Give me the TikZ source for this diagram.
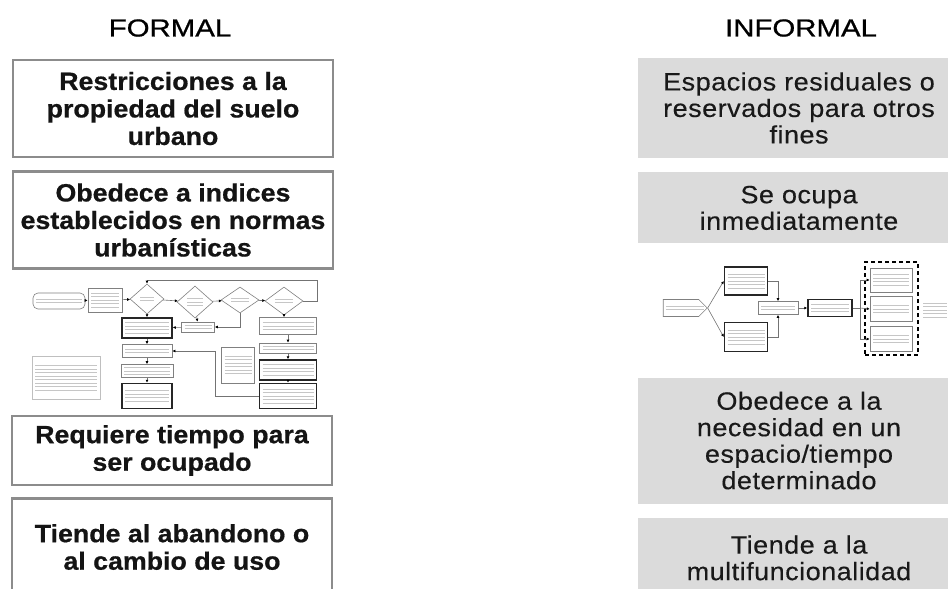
\documentclass[tikz,border=0pt]{standalone}
\usepackage{fontspec}
\setmainfont{Liberation Sans}
\newfontfamily\formalfont{Liberation Sans}[FakeStretch=1.07,FakeBold=0.6]
\newfontfamily\informalfont{Liberation Sans}[FakeStretch=1.08,LetterSpace=2,FakeBold=0.3]
\newfontfamily\titlefont{Liberation Sans}[FakeStretch=1.2,FakeBold=0.8]
\usetikzlibrary{shapes.geometric, shapes.symbols, arrows.meta, positioning}

\tikzset{
    title/.style={font=\titlefont\fontsize{24.5}{28}\selectfont, text=black},
    formalbox/.style={draw=black!45, line width=2.5pt, fill=white, minimum width=320pt,
        inner sep=2pt, align=center, text=black!92,
        font=\formalfont\bfseries\fontsize{25}{27.5}\selectfont},
    informalbox/.style={fill=black!14, minimum width=322pt, inner sep=2pt, align=center,
        text=black!90, font=\informalfont\fontsize{25}{26.5}\selectfont},
    sz/.style 2 args={minimum width=#1pt, minimum height=#2pt},
    fbox/.style={draw=black!50, line width=.6pt, fill=white, inner sep=0pt},
    fthick/.style={draw=black!85, line width=1.5pt, fill=white, inner sep=0pt},
    fdia/.style={diamond, draw=black!50, line width=.6pt, fill=white, inner sep=0pt},
    fterm/.style={draw=black!50, line width=.6pt, fill=white, inner sep=0pt, rounded corners=5pt},
    dashbox/.style={draw=black, line width=1.5pt, dash pattern=on 4pt off 3pt, inner sep=0pt},
    % grey strokes standing in for the unreadable small print
    fuzz/.style={path picture={
        \foreach \k in {1,...,#1}
            \draw[gray!45, line width=.8pt]
                ([xshift=3pt, yshift={((#1+1)/2-\k)*3.5pt}]path picture bounding box.west) --
                ([xshift=-3pt, yshift={((#1+1)/2-\k)*3.5pt}]path picture bounding box.east);
    }},
    dfuzz/.style={path picture={
        \foreach \k in {1,...,#1}
            \draw[gray!45, line width=.8pt]
                ([xshift=10pt, yshift={((#1+1)/2-\k)*3.5pt}]path picture bounding box.west) --
                ([xshift=-10pt, yshift={((#1+1)/2-\k)*3.5pt}]path picture bounding box.east);
    }},
    flow/.style={draw=black!55, line width=.6pt, -{Latex[length=3pt, width=3pt, color=black]}},
    line/.style={draw=black!55, line width=.6pt}
}

\begin{document}
\begin{tikzpicture}[x=1pt, y=-1pt]
    \clip (0,0) rectangle (948,589);

    % headings
    \node[title] (tformal) at (170,28) {FORMAL};
    \node[title] (tinformal) at (801,28) {INFORMAL};

    % formal column
    \node[formalbox, minimum height=97pt] (f1) at (173,108.5) {Restricciones a la\\ propiedad del suelo\\ urbano};
    \node[formalbox, minimum height=97pt, below=12pt of f1] (f2) {Obedece a indices\\ establecidos en normas\\ urbanísticas};
    \node[formalbox, minimum height=69pt] (f3) at (172,450.5) {Requiere tiempo para\\ ser ocupado};
    \node[formalbox, minimum height=97pt, below=11pt of f3] (f4) {Tiende al abandono o\\ al cambio de uso};

    % informal column
    \node[informalbox, minimum height=100pt] (i1) at (799,108) {Espacios residuales o\\ reservados para otros\\ fines};
    \node[informalbox, minimum height=71pt, below=14pt of i1] (i2) {Se ocupa\\ inmediatamente};
    \node[informalbox, minimum height=126pt] (i3) at (799,440.5) {Obedece a la\\ necesidad en un\\ espacio/tiempo\\ determinado};
    \node[informalbox, minimum height=80pt, below=14pt of i3] (i4) {Tiende a la\\ multifuncionalidad};

    % small flow chart, formal side
    \node[fterm, sz={52}{16}, fuzz=2] (t1) at (59,301) {};
    \node[fbox, sz={34}{24}, fuzz=5] (b1) at (105,300) {};
    \node[fdia, sz={34}{30}, dfuzz=2] (d1) at (147,299) {};
    \node[fdia, sz={36}{32}, dfuzz=3] (d2) at (195,302) {};
    \node[fdia, sz={38}{26}, dfuzz=2] (d3) at (240,300) {};
    \node[fdia, sz={38}{28}, dfuzz=2] (d4) at (284,301) {};
    \node[fthick, sz={50}{20}, fuzz=4] (k7) at (147,328) {};
    \node[fbox, sz={33}{10}, fuzz=2] (b8) at (198,327) {};
    \node[fbox, sz={57}{17}, fuzz=3] (b9) at (288,326) {};
    \node[fbox, sz={57}{10}, fuzz=2] (b10) at (288,348) {};
    \node[fthick, sz={57}{20}, fuzz=4] (b11) at (288,370) {};
    \node[fthick, sz={57}{25}, fuzz=5] (b12) at (288,396) {};
    \node[fbox, sz={33}{36}, fuzz=6] (b13) at (238,365) {};
    \node[fbox, sz={50}{13}, fuzz=2] (b14) at (147,351) {};
    \node[fbox, sz={52}{13}, fuzz=3] (b15) at (147,371) {};
    \node[fthick, sz={50}{25}, fuzz=4] (b16) at (147,396) {};
    \node[fbox, draw=black!25, sz={68}{43}, fuzz=8] (leg) at (66,378) {};
    \coordinate (loop) at (317,280);

    \draw[flow] (t1) -- (b1);
    \draw[flow] (b1) -- (d1);
    \draw[flow] (d1) -- (d2);
    \draw[flow] (d2) -- (d3);
    \draw[flow] (d3) -- (d4);
    \draw[line] (d4.east) -| (loop);
    \draw[flow] (loop) -| (d1.north);
    \draw[flow] (d1) -- (k7);
    \draw[flow] (d2) -- (b8);
    \draw[flow] (d3.south) |- (b8.east);
    \draw[flow] (b8) -- (k7);
    \draw[flow] (k7) -- (b14);
    \draw[flow] (b14) -- (b15);
    \draw[flow] (b15) -- (b16);
    \draw[flow] (d4.south) -- (d4.south |- b9.north);
    \draw[flow] (b9) -- (b10);
    \draw[flow] (b10) -- (b11);
    \draw[flow] (b11) -- (b12);
    \draw[flow] (b12.west) -- ++(-43,0) |- (b14.east);

    % small flow chart, informal side
    \node[dashbox, sz={53}{93}] (grp) at (891.5,308.5) {};
    \node[signal, signal to=east, draw=black!50, line width=.6pt, fill=white, inner sep=0pt,
        sz={44}{17}, fuzz=2] (rt) at (681,308) {};
    \node[fthick, sz={43}{28}, fuzz=5] (ra) at (746,281) {};
    \node[fthick, sz={43}{29}, fuzz=5] (rb) at (746,337) {};
    \node[fbox, sz={40}{13}, fuzz=2] (rc) at (778,308) {};
    \node[fthick, sz={44}{17}, fuzz=3] (rd) at (830,308) {};
    \node[fbox, sz={42}{24}, fuzz=4] (re) at (891,280) {};
    \node[fbox, sz={42}{25}, fuzz=3] (rf) at (891,309) {};
    \node[fbox, sz={42}{25}, fuzz=3] (rg) at (891,339) {};
    \node[inner sep=0pt, sz={30}{26}, fuzz=5] (rnote) at (935,310) {};
    \coordinate (split) at (860,308);

    \draw[flow] (rt.east) -- (ra.west);
    \draw[flow] (rt.east) -- (rb.west);
    \draw[flow] (ra.east) -| (rc.north);
    \draw[flow] (rb.east) -| (rc.south);
    \draw[flow] (rc) -- (rd);
    \draw[line] (rd) -- (split);
    \draw[flow] (split) |- (re.west);
    \draw[flow] (split) -- (rf.west);
    \draw[flow] (split) |- (rg.west);

\end{tikzpicture}
\end{document}
